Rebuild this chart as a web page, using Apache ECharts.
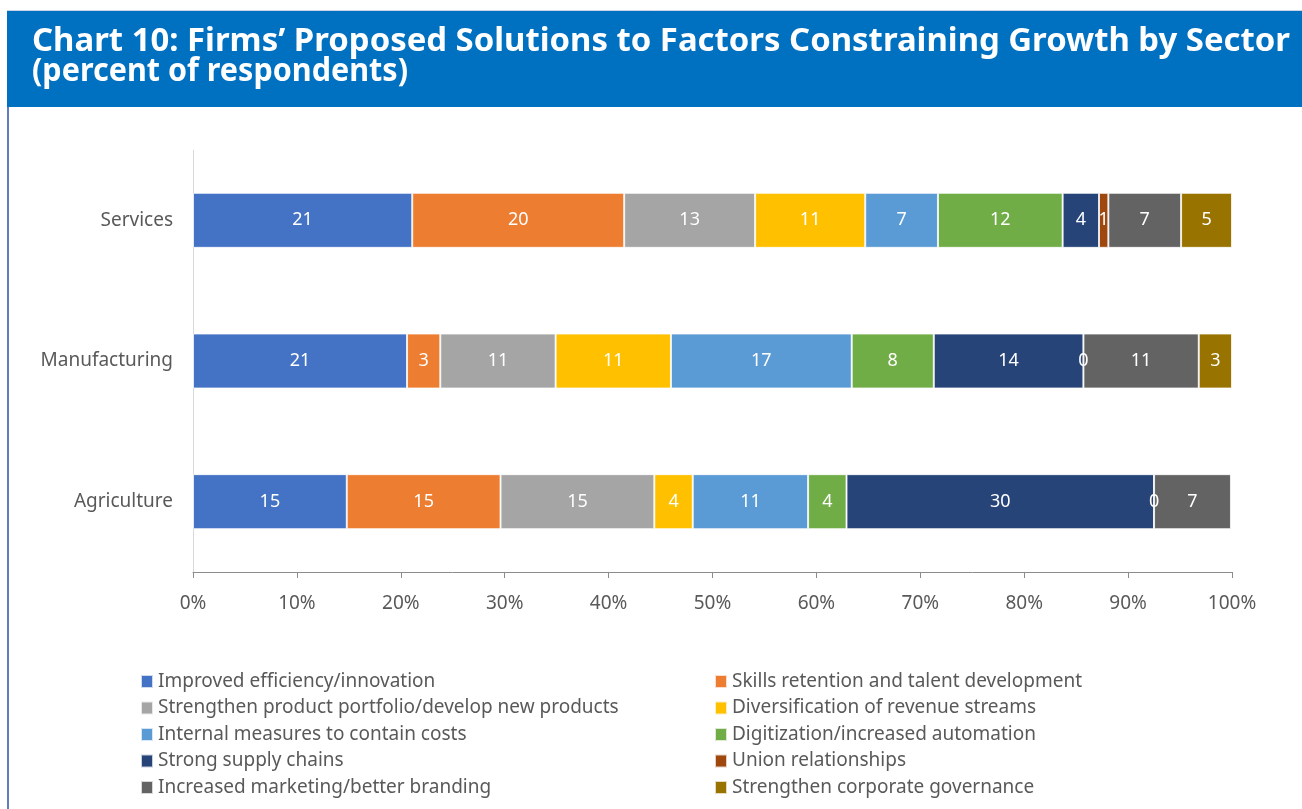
<!DOCTYPE html>
<html>
<head>
<meta charset="utf-8">
<script src="https://cdn.jsdelivr.net/npm/echarts@6/dist/echarts.min.js"></script>
<style>
  html, body { margin: 0; padding: 0; background: #ffffff; }
  #chart { width: 1302px; height: 809px; }
</style>
</head>
<body>
<div id="chart"></div>
<script>
// Sectors on the category axis (bottom to top)
const sectors = ['Agriculture', 'Manufacturing', 'Services'];

// Proposed solutions, in stacking / legend order
const solutions = [
  'Improved efficiency/innovation',
  'Skills retention and talent development',
  'Strengthen product portfolio/develop new products',
  'Diversification of revenue streams',
  'Internal measures to contain costs',
  'Digitization/increased automation',
  'Strong supply chains',
  'Union relationships',
  'Increased marketing/better branding',
  'Strengthen corporate governance'
];

// Share of respondents (%) per sector: [Agriculture, Manufacturing, Services]
const improvedEfficiency     = [14.8, 20.6, 21.1];
const skillsRetention        = [14.8,  3.2, 20.4];
const productPortfolio       = [14.8, 11.1, 12.6];
const revenueDiversification = [ 3.7, 11.1, 10.6];
const costContainment        = [11.1, 17.4,  7.0];
const digitization           = [ 3.7,  7.9, 12.0];
const supplyChains           = [29.6, 14.4,  3.5];
const unionRelations         = [ 0.0,  0.0,  0.9];
const marketingBranding      = [ 7.4, 11.1,  7.0];
const corporateGovernance    = [null,  3.2,  4.9];

// Percent axis ticks
const axisMin = 0;
const axisMax = 100;
const axisStep = 10;

const seriesValues = [
  improvedEfficiency, skillsRetention, productPortfolio, revenueDiversification,
  costContainment, digitization, supplyChains, unionRelations,
  marketingBranding, corporateGovernance
];

const palette = ['#4472C4', '#ED7D31', '#A5A5A5', '#FFC000', '#5B9BD5',
                 '#70AD47', '#264478', '#9E480E', '#636363', '#997300'];

const titleLine1 = 'Chart 10: Firms\u2019 Proposed Solutions to Factors Constraining Growth by Sector';
const titleLine2 = '(percent of respondents)';
const titleFont = 'bold 32px "Noto Sans"';

// Condense the heading: first line spans the banner, second keeps its own width
const measureCtx = document.createElement('canvas').getContext('2d');
measureCtx.font = titleFont;
const titleScale1 = 1258 / measureCtx.measureText(titleLine1).width;
const titleScale2 = 376 / measureCtx.measureText(titleLine2).width;

const textFont = '"Noto Sans", "DejaVu Sans", sans-serif';
const labelGrey = '#595959';

const chart = echarts.init(document.getElementById('chart'), null, { renderer: 'canvas' });

const series = solutions.map((name, i) => ({
  name: name,
  type: 'bar',
  stack: 'share',
  barWidth: 55,
  data: seriesValues[i],
  itemStyle: { color: palette[i], borderColor: 'rgba(255,255,255,0.75)', borderWidth: 1 },
  label: {
    show: true,
    position: 'inside',
    color: '#ffffff',
    fontFamily: textFont,
    fontSize: 18,
    formatter: p => (p.value == null ? '' : String(Math.round(p.value)))
  },
  emphasis: { disabled: true }
}));

const legendText = { color: labelGrey, fontFamily: textFont, fontSize: 19 };
const legendBase = {
  orient: 'vertical',
  top: 672,
  padding: 0,
  itemWidth: 12,
  itemHeight: 13,
  itemGap: 7.5,
  icon: 'rect',
  selectedMode: false,
  textStyle: legendText
};

chart.setOption({
  animation: false,
  backgroundColor: '#ffffff',
  graphic: [
    { type: 'line', shape: { x1: 7, y1: 10.5, x2: 1302, y2: 10.5 },
      style: { stroke: '#c8d3e6', lineWidth: 1 } },
    { type: 'rect', shape: { x: 7, y: 11, width: 1295, height: 96 },
      style: { fill: '#0070C0' } },
    { type: 'line', shape: { x1: 8, y1: 107, x2: 8, y2: 809 },
      style: { stroke: '#2E52A4', lineWidth: 1.5 } },
    { type: 'text', x: 32, y: 41.5, scaleX: titleScale1, originX: 0,
      style: { text: titleLine1, font: titleFont, fill: '#ffffff', verticalAlign: 'middle', align: 'left' } },
    { type: 'text', x: 32, y: 72, scaleX: titleScale2, originX: 0,
      style: { text: titleLine2, font: titleFont, fill: '#ffffff', verticalAlign: 'middle', align: 'left' } }
  ],
  grid: { left: 193, right: 70, top: 150, bottom: 237, containLabel: false },
  xAxis: {
    type: 'value',
    min: axisMin,
    max: axisMax,
    interval: axisStep,
    axisLine: { show: true, lineStyle: { color: '#8c8c8c', width: 1 } },
    axisTick: { show: true, length: 6, lineStyle: { color: '#8c8c8c' } },
    splitLine: { show: false },
    axisLabel: { formatter: '{value}%', color: labelGrey, fontFamily: textFont, fontSize: 19, margin: 22 }
  },
  yAxis: {
    type: 'category',
    data: sectors,
    axisLine: { show: true, lineStyle: { color: '#d9d9d9', width: 1 } },
    axisTick: { show: false },
    axisLabel: { color: labelGrey, fontFamily: textFont, fontSize: 19, margin: 20 }
  },
  legend: [
    Object.assign({ left: 140, data: solutions.filter((_, i) => i % 2 === 0) }, legendBase),
    Object.assign({ left: 714, data: solutions.filter((_, i) => i % 2 === 1) }, legendBase)
  ],
  series: series
});
</script>
</body>
</html>
